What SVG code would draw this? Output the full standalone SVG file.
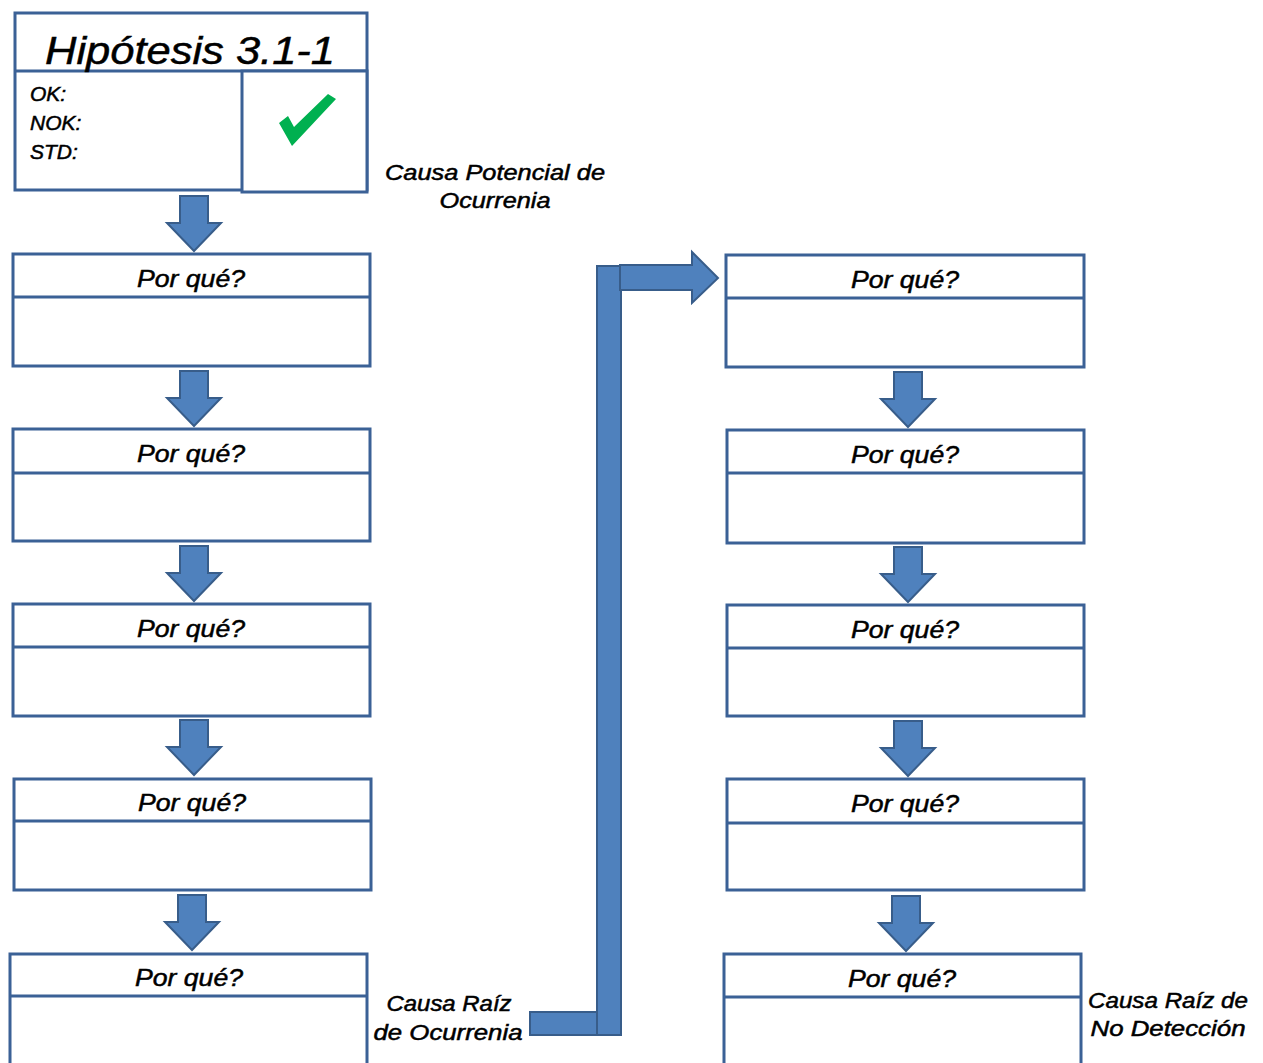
<svg xmlns="http://www.w3.org/2000/svg" width="1263" height="1063" viewBox="0 0 1263 1063">
<defs>
<style>
.box{fill:#ffffff;stroke:#3B6196;stroke-width:3}
.div{stroke:#3B6196;stroke-width:3}
.arr{fill:#4F81BD;stroke:#385D8A;stroke-width:2;stroke-linejoin:miter}
.t{font-family:"Liberation Sans",Arial,sans-serif;font-style:italic;fill:#000000;stroke:#000000;stroke-width:0.5}
.q{font-size:24px;text-anchor:middle}
.lab{font-size:22px;text-anchor:middle}
.ok{font-size:21px}
</style>
<path id="down" d="M-14,0 H14 V27 H27 L0,55 L-27,27 H-14 Z"/>
</defs>

<g id="header">
<rect class="box" x="15" y="13" width="352" height="177"/>
<line class="div" x1="15" y1="71" x2="367" y2="71"/>
<rect class="box" x="242" y="71" width="125" height="121"/>
<text class="t" x="190" y="64" font-size="39" text-anchor="middle" textLength="290" lengthAdjust="spacingAndGlyphs" stroke-width="0.8">Hipótesis 3.1-1</text>
<text class="t ok" x="30" y="101">OK:</text>
<text class="t ok" x="30" y="130">NOK:</text>
<text class="t ok" x="30" y="159">STD:</text>
<path d="M279,123 L288,116 L294,127 L328,94 L336,99 L292,146 Z" fill="#00B050"/>
</g>

<g id="label-potencial">
<text class="t lab" x="495" y="180" textLength="220" lengthAdjust="spacingAndGlyphs">Causa Potencial de</text>
<text class="t lab" x="495" y="208" textLength="111" lengthAdjust="spacingAndGlyphs">Ocurrenia</text>
</g>

<g id="L1"><rect class="box" x="13" y="254" width="357" height="112"/><line class="div" x1="13" y1="297" x2="370" y2="297"/><text class="t q" x="191" y="287" textLength="108" lengthAdjust="spacingAndGlyphs">Por qué?</text></g>
<g id="L2"><rect class="box" x="13" y="429" width="357" height="112"/><line class="div" x1="13" y1="473" x2="370" y2="473"/><text class="t q" x="191" y="462" textLength="108" lengthAdjust="spacingAndGlyphs">Por qué?</text></g>
<g id="L3"><rect class="box" x="13" y="604" width="357" height="112"/><line class="div" x1="13" y1="647" x2="370" y2="647"/><text class="t q" x="191" y="637" textLength="108" lengthAdjust="spacingAndGlyphs">Por qué?</text></g>
<g id="L4"><rect class="box" x="14" y="779" width="357" height="111"/><line class="div" x1="14" y1="821" x2="371" y2="821"/><text class="t q" x="192" y="811" textLength="108" lengthAdjust="spacingAndGlyphs">Por qué?</text></g>
<g id="L5"><rect class="box" x="10" y="954" width="357" height="115"/><line class="div" x1="10" y1="996" x2="367" y2="996"/><text class="t q" x="189" y="986" textLength="108" lengthAdjust="spacingAndGlyphs">Por qué?</text></g>

<g id="R1"><rect class="box" x="726" y="255" width="358" height="112"/><line class="div" x1="726" y1="298" x2="1084" y2="298"/><text class="t q" x="905" y="288" textLength="108" lengthAdjust="spacingAndGlyphs">Por qué?</text></g>
<g id="R2"><rect class="box" x="727" y="430" width="357" height="113"/><line class="div" x1="727" y1="473" x2="1084" y2="473"/><text class="t q" x="905" y="463" textLength="108" lengthAdjust="spacingAndGlyphs">Por qué?</text></g>
<g id="R3"><rect class="box" x="727" y="605" width="357" height="111"/><line class="div" x1="727" y1="648" x2="1084" y2="648"/><text class="t q" x="905" y="638" textLength="108" lengthAdjust="spacingAndGlyphs">Por qué?</text></g>
<g id="R4"><rect class="box" x="727" y="779" width="357" height="111"/><line class="div" x1="727" y1="823" x2="1084" y2="823"/><text class="t q" x="905" y="812" textLength="108" lengthAdjust="spacingAndGlyphs">Por qué?</text></g>
<g id="R5"><rect class="box" x="724" y="954" width="357" height="115"/><line class="div" x1="724" y1="997" x2="1081" y2="997"/><text class="t q" x="902" y="987" textLength="108" lengthAdjust="spacingAndGlyphs">Por qué?</text></g>

<g id="label-raiz-ocurrencia">
<text class="t lab" x="449" y="1011" textLength="125" lengthAdjust="spacingAndGlyphs">Causa Raíz</text>
<text class="t lab" x="448" y="1040" textLength="149" lengthAdjust="spacingAndGlyphs">de Ocurrenia</text>
</g>
<g id="label-raiz-deteccion">
<text class="t lab" x="1168" y="1008" textLength="160" lengthAdjust="spacingAndGlyphs">Causa Raíz de</text>
<text class="t lab" x="1168" y="1036" textLength="155" lengthAdjust="spacingAndGlyphs">No Detección</text>
</g>

<g id="connectors">
<use href="#down" class="arr" transform="translate(194,196)"/>
<use href="#down" class="arr" transform="translate(194,371)"/>
<use href="#down" class="arr" transform="translate(194,546)"/>
<use href="#down" class="arr" transform="translate(194,720)"/>
<use href="#down" class="arr" transform="translate(192,895)"/>
<use href="#down" class="arr" transform="translate(908,372)"/>
<use href="#down" class="arr" transform="translate(908,547)"/>
<use href="#down" class="arr" transform="translate(908,721)"/>
<use href="#down" class="arr" transform="translate(906,896)"/>
<rect class="arr" x="530" y="1012" width="91" height="23"/>
<rect class="arr" x="597" y="266" width="24" height="769"/>
<path class="arr" d="M620,265 H692 V252 L718,278 L692,303 V290 H620 Z"/>
</g>
</svg>
